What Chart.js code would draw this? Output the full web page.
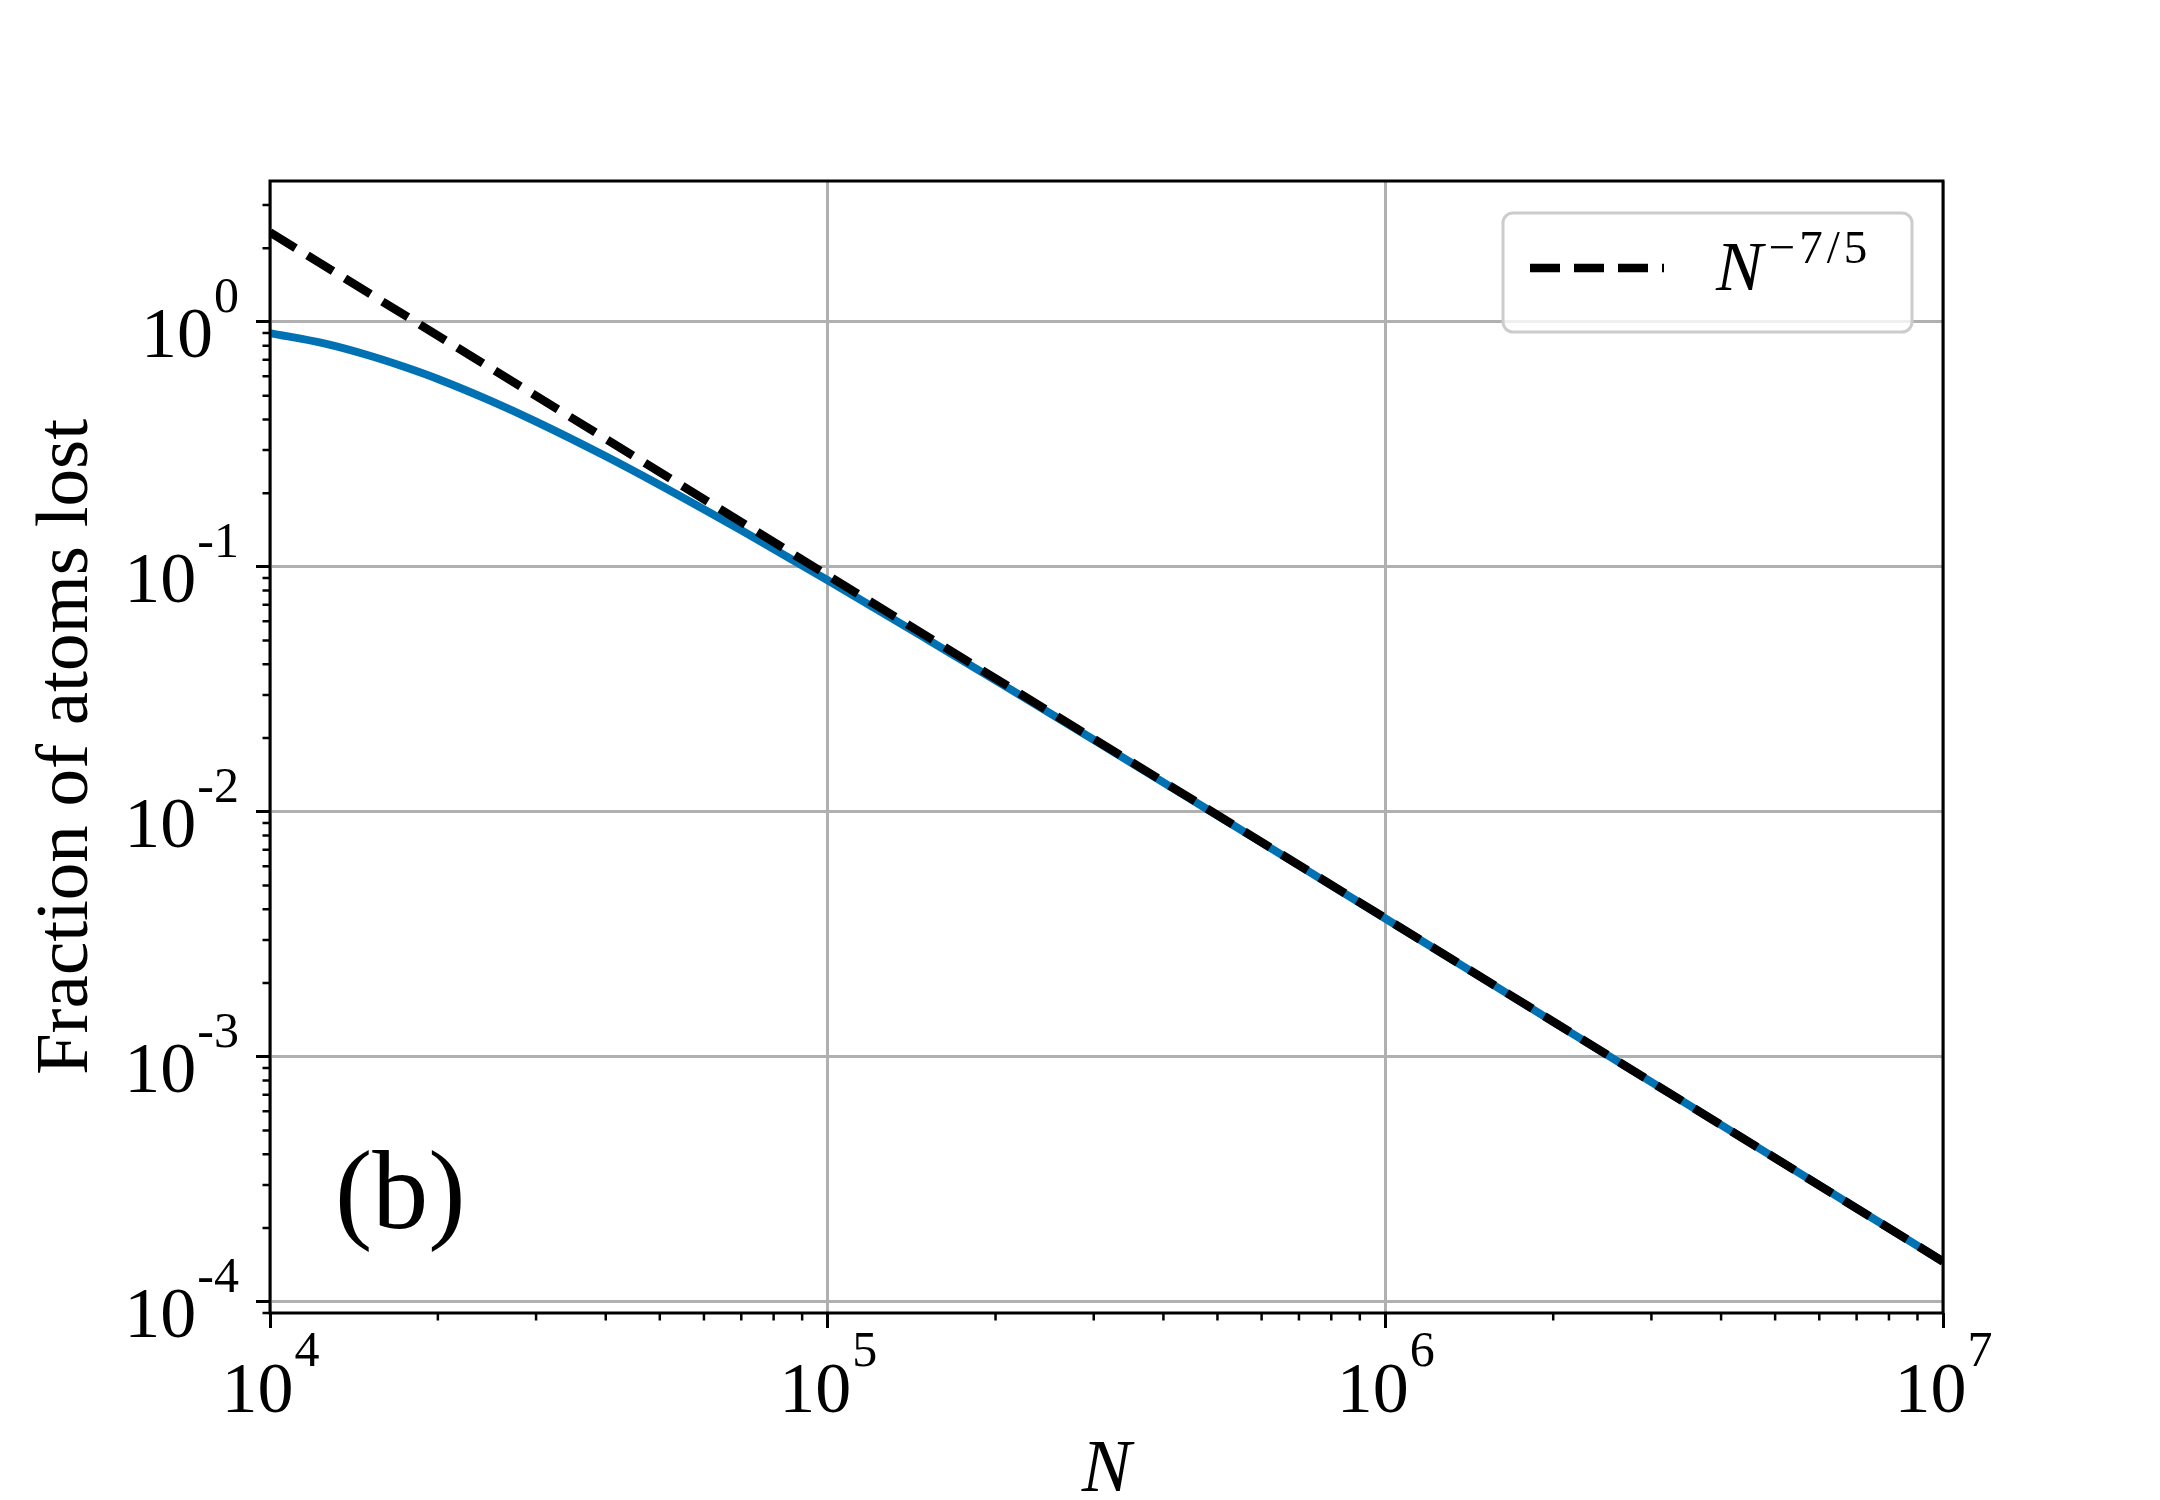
<!DOCTYPE html>
<html>
<head>
<meta charset="utf-8">
<script src="https://cdn.jsdelivr.net/npm/chart.js@4.4.1/dist/chart.umd.min.js"></script>
<style>
  html, body { margin: 0; padding: 0; background: #fff; overflow: hidden; }
  #wrap { width: 2160px; height: 1500px; }
  .preload { position: absolute; left: 0; top: 1600px; font: 60px 'Liberation Serif'; }
</style>
</head>
<body>
<div id="wrap"><canvas id="lost" width="2160" height="1500"></canvas></div>
<div class="preload">Fraction 10 <i>N</i></div>
<script>
// values
var nValues = [1e4, 1.25e4, 1.5e4, 1.75e4, 2e4, 2.5e4, 3e4, 4e4, 5e4, 7e4, 1e5, 1.5e5, 2e5, 3e5, 5e5, 1e6, 2e6, 5e6, 1e7];
var lostFraction = [0.90, 0.817, 0.731, 0.653, 0.585, 0.474, 0.392, 0.283, 0.216, 0.141, 0.0882, 0.0510, 0.0344, 0.0197, 0.00966, 0.00367, 0.00139, 0.000386, 0.000146];
var powerLawN = [1e4, 1e5, 1e6, 1e7];
var powerLaw = [2.32, 0.0924, 0.00368, 0.000146];

var xTickExponents = [4, 5, 6, 7];
var yTickExponents = [0, -1, -2, -3, -4];
var legendBase = 'N';
var legendExponent = '\u22127/5';
var panelLabel = '(b)';

var serif = '"Liberation Serif"';

function toPoints(xs, ys) {
  return xs.map(function(v, i) { return { x: v, y: ys[i] }; });
}

function minorValues(min, max) {
  var out = [];
  for (var e = Math.floor(Math.log10(min)); e <= Math.ceil(Math.log10(max)); e++) {
    for (var m = 2; m <= 9; m++) {
      var v = m * Math.pow(10, e);
      if (v >= min && v <= max) out.push(v);
    }
  }
  return out;
}

// ticks, frame, exponent labels, legend and panel tag
var decorations = {
  id: 'decorations',
  afterDraw: function(chart) {
    var ctx = chart.ctx, a = chart.chartArea;
    var x = chart.scales.x, y = chart.scales.y;
    ctx.save();

    // minor ticks
    ctx.strokeStyle = '#000';
    ctx.lineWidth = 2.5;
    ctx.beginPath();
    minorValues(x.min, x.max).forEach(function(v) {
      var px = x.getPixelForValue(v);
      ctx.moveTo(px, a.bottom); ctx.lineTo(px, a.bottom + 7.5);
    });
    minorValues(y.min, y.max).forEach(function(v) {
      var py = y.getPixelForValue(v);
      ctx.moveTo(a.left, py); ctx.lineTo(a.left - 7.5, py);
    });
    ctx.stroke();

    // frame
    ctx.lineWidth = 3;
    ctx.strokeRect(a.left, a.top, a.right - a.left, a.bottom - a.top);

    // tick labels 10^k
    ctx.fillStyle = '#000';
    ctx.textBaseline = 'alphabetic';
    xTickExponents.forEach(function(e) {
      var px = x.getPixelForValue(Math.pow(10, e));
      ctx.font = '72px ' + serif;
      var w1 = ctx.measureText('10').width;
      ctx.font = '50px ' + serif;
      var w2 = ctx.measureText(String(e)).width;
      var sx = px - (w1 + w2) / 2;
      ctx.textAlign = 'left';
      ctx.font = '72px ' + serif;
      ctx.fillText('10', sx, a.bottom + 99);
      ctx.font = '50px ' + serif;
      ctx.fillText(String(e), sx + w1 + 1, a.bottom + 53);
    });
    yTickExponents.forEach(function(e) {
      var py = y.getPixelForValue(Math.pow(10, e));
      var right = a.left - 31;
      ctx.textAlign = 'right';
      ctx.font = '50px ' + serif;
      var txt = String(e);
      var w2 = ctx.measureText(txt).width;
      ctx.fillText(txt, right, py - 10);
      ctx.font = '72px ' + serif;
      ctx.fillText('10', right - w2 - 1, py + 35);
    });

    // legend
    var lx = 1503, ly = 213, lw = 409, lh = 119, r = 10;
    ctx.beginPath();
    ctx.moveTo(lx + r, ly);
    ctx.arcTo(lx + lw, ly, lx + lw, ly + lh, r);
    ctx.arcTo(lx + lw, ly + lh, lx, ly + lh, r);
    ctx.arcTo(lx, ly + lh, lx, ly, r);
    ctx.arcTo(lx, ly, lx + lw, ly, r);
    ctx.closePath();
    ctx.fillStyle = 'rgba(255,255,255,0.8)';
    ctx.fill();
    ctx.strokeStyle = '#cccccc';
    ctx.lineWidth = 3;
    ctx.stroke();

    ctx.beginPath();
    ctx.setLineDash([30, 14]);
    ctx.strokeStyle = '#000';
    ctx.lineWidth = 8.5;
    ctx.moveTo(1530, 268); ctx.lineTo(1664, 268);
    ctx.stroke();
    ctx.setLineDash([]);

    ctx.fillStyle = '#000';
    ctx.textAlign = 'left';
    ctx.font = 'italic 70px ' + serif;
    ctx.fillText(legendBase, 1716, 290);
    var nw = ctx.measureText(legendBase).width;
    ctx.font = '47px ' + serif;
    ctx.letterSpacing = '4px';
    ctx.fillText(legendExponent, 1716 + nw + 6, 263);
    ctx.letterSpacing = '0px';

    // panel tag
    ctx.font = '112px ' + serif;
    ctx.fillText(panelLabel, 335, 1228);

    ctx.restore();
  }
};

function drawChart() {
  var ctx = document.getElementById('lost').getContext('2d');
  new Chart(ctx, {
    type: 'line',
    data: {
      datasets: [{
        label: 'N^{-7/5}',
        data: toPoints(powerLawN, powerLaw),
        borderColor: '#000',
        borderWidth: 8.5,
        borderDash: [30, 14],
        borderCapStyle: 'butt',
        pointRadius: 0,
        fill: false,
        clip: 0,
        order: 1
      }, {
        label: 'fraction lost',
        data: toPoints(nValues, lostFraction),
        borderColor: '#0072b4',
        borderWidth: 8,
        cubicInterpolationMode: 'monotone',
        pointRadius: 0,
        fill: false,
        clip: 0,
        order: 2
      }]
    },
    options: {
      responsive: false,
      animation: false,
      layout: { padding: { left: 38, right: 217, top: 181, bottom: 0 } },
      plugins: { legend: { display: false }, tooltip: { enabled: false } },
      scales: {
        x: {
          type: 'logarithmic',
          min: 1e4,
          max: 1e7,
          afterBuildTicks: function(s) {
            s.ticks = xTickExponents.map(function(e) { return { value: Math.pow(10, e) }; });
          },
          afterFit: function(s) { s.height = 187; },
          ticks: { display: false },
          border: { display: false },
          grid: { color: '#b0b0b0', lineWidth: 3, drawTicks: true, tickLength: 15, tickWidth: 3, tickColor: '#000' },
          title: { display: true, text: 'N', color: '#000', padding: 0,
                   font: { family: serif, size: 74, style: 'italic', lineHeight: 0.78 } }
        },
        y: {
          type: 'logarithmic',
          min: 9.0e-5,
          max: 3.76,
          afterBuildTicks: function(s) {
            s.ticks = yTickExponents.map(function(e) { return { value: Math.pow(10, e) }; });
          },
          afterFit: function(s) { s.width = 232; },
          ticks: { display: false },
          border: { display: false },
          grid: { color: '#b0b0b0', lineWidth: 3, drawTicks: true, tickLength: 14, tickWidth: 3, tickColor: '#000' },
          title: { display: true, text: 'Fraction of atoms lost', color: '#000', padding: 0,
                   font: { family: serif, size: 75, lineHeight: 0.78 } }
        }
      }
    },
    plugins: [decorations]
  });
}

// wait until the serif face is in use on the page, then draw
document.fonts.ready.then(function() { setTimeout(drawChart, 50); });
</script>
</body>
</html>
